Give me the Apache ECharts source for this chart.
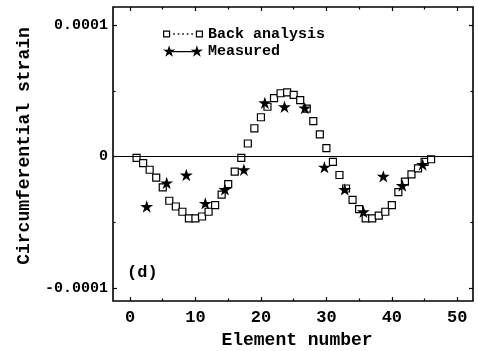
<!DOCTYPE html>
<html>
<head>
<meta charset="utf-8">
<script src="https://cdn.jsdelivr.net/npm/echarts@6/dist/echarts.min.js"></script>
<style>
  html, body { margin: 0; padding: 0; background: #fff; }
  #chart { width: 478px; height: 351px; }
</style>
</head>
<body>
<div id="chart"></div>
<script>
// back analysis, one value per element (strain x 1e-4)
const elements = [1, 2, 3, 4, 5, 6, 7, 8, 9, 10, 11, 12, 13, 14, 15, 16, 17, 18, 19, 20, 21, 22, 23,
  24, 25, 26, 27, 28, 29, 30, 31, 32, 33, 34, 35, 36, 37, 38, 39, 40, 41, 42, 43, 44, 45, 46];
const backAnalysis = [-0.01, -0.05, -0.10, -0.16, -0.235, -0.336, -0.38, -0.42, -0.47, -0.47, -0.456,
  -0.42, -0.37, -0.29, -0.21, -0.115, -0.01, 0.10, 0.216, 0.30, 0.38, 0.446, 0.483, 0.49, 0.47, 0.43,
  0.366, 0.27, 0.17, 0.065, -0.04, -0.14, -0.243, -0.33, -0.40, -0.47, -0.47, -0.45, -0.42, -0.37,
  -0.27, -0.19, -0.135, -0.09, -0.04, -0.02];

// measured points
const measuredX = [2.55, 5.6, 8.6, 11.5, 14.5, 17.4, 20.6, 23.6, 26.7, 29.7, 32.8, 35.65, 38.7, 41.6, 44.7];
const measured = [-0.38, -0.20, -0.14, -0.356, -0.25, -0.10, 0.41, 0.38, 0.37, -0.08, -0.25, -0.42,
  -0.15, -0.22, -0.06];

const scale = 1e-4;
const xTicks = [0, 10, 20, 30, 40, 50];
const xMinorTicks = [5, 15, 25, 35, 45];
const yTicks = [-0.0001, 0, 0.0001];
const yMinorTicks = [-0.00005, 0.00005];

const FONT = "Liberation Mono";

function starPath(cx, cy, r) {
  let d = "";
  for (let i = 0; i < 10; i++) {
    const a = (i * 36) * Math.PI / 180;
    const rr = i % 2 ? r * 0.38 : r;
    const x = cx + rr * Math.sin(a), y = cy - rr * Math.cos(a);
    d += (i ? "L" : "M") + x.toFixed(2) + "," + y.toFixed(2);
  }
  return d + "Z";
}
function ringPath(x, y, s, t) {
  return "M" + x + "," + y + "H" + (x + s) + "V" + (y + s) + "H" + x + "Z" +
    "M" + (x + t) + "," + (y + t) + "V" + (y + s - t) + "H" + (x + s - t) + "V" + (y + t) + "Z";
}
let dots = "";
for (let i = 0; i < 5; i++) {
  const x = 10.5 + i * 4.4;
  dots += "M" + x + ",3.3H" + (x + 1.5) + "V4.7H" + x + "Z";
}
const backIcon = "path://" + ringPath(0.5, 0.5, 7, 1.2) + ringPath(32.5, 0.5, 7, 1.2) + dots;
const measIcon = "path://" + starPath(6, 6.5, 6.5) + starPath(34, 6.5, 6.5) + "M6,5.9H34V7.1H6Z";
const starSymbol = "path://" + starPath(50, 50, 50);

const tickLine = { color: "#000", width: 1.2 };

function xAxisDef(pos, vals, len, labels) {
  return {
    type: "value", min: -2.6, max: 52.4, position: pos,
    axisLine: { show: false, onZero: false },
    axisTick: { show: true, inside: true, length: len, customValues: vals, lineStyle: tickLine },
    axisLabel: labels ? {
      show: true, customValues: vals, margin: 8, color: "#000",
      fontFamily: FONT, fontSize: 17, fontWeight: "bold"
    } : { show: false },
    splitLine: { show: false }
  };
}
function yAxisDef(pos, vals, len, labels) {
  return {
    type: "value", min: -1.1e-4, max: 1.14e-4, position: pos,
    axisLine: { show: false, onZero: false },
    axisTick: { show: true, inside: true, length: len, customValues: vals, lineStyle: tickLine },
    axisLabel: labels ? {
      show: true, customValues: vals, margin: 5, color: "#000",
      fontFamily: FONT, fontSize: 15, fontWeight: "bold",
      formatter: v => Math.abs(v) < 1e-12 ? "0" : v.toFixed(4)
    } : { show: false },
    splitLine: { show: false }
  };
}

const xAxes = [xAxisDef("bottom", xTicks, 4, true), xAxisDef("bottom", xMinorTicks, 2.5),
  xAxisDef("top", xTicks, 4), xAxisDef("top", xMinorTicks, 2.5)];
xAxes[0].name = "Element number";
xAxes[0].nameLocation = "middle";
xAxes[0].nameGap = 30;
xAxes[0].nameTextStyle = { fontFamily: FONT, fontSize: 18, fontWeight: "bold", color: "#000", padding: [0, 0, 0, 8] };

const yAxes = [yAxisDef("left", yTicks, 4, true), yAxisDef("left", yMinorTicks, 2.5),
  yAxisDef("right", yTicks, 4), yAxisDef("right", yMinorTicks, 2.5)];
yAxes[0].name = "Circumferential strain";
yAxes[0].nameLocation = "middle";
yAxes[0].nameGap = 80;
yAxes[0].nameTextStyle = { fontFamily: FONT, fontSize: 18, fontWeight: "bold", color: "#000", padding: [0, 0, 0, 16] };

const chart = echarts.init(document.getElementById("chart"), null, { renderer: "canvas" });
chart.setOption({
  animation: false,
  backgroundColor: "#fff",
  grid: {
    left: 113, right: 5, top: 7, bottom: 50, outerBoundsMode: "none",
    show: true, borderColor: "#000", borderWidth: 1.6, backgroundColor: "transparent"
  },
  xAxis: xAxes,
  yAxis: yAxes,
  legend: {
    orient: "vertical", left: 158, top: 21, itemWidth: 40, itemHeight: 12, itemGap: 1,
    textStyle: { fontFamily: FONT, fontSize: 15, fontWeight: "bold", color: "#000", lineHeight: 16 },
    data: [
      { name: "Back analysis", icon: backIcon, itemStyle: { color: "#000", borderWidth: 0 } },
      { name: "Measured", icon: measIcon, itemStyle: { color: "#000", borderWidth: 0 } }
    ]
  },
  graphic: [{
    type: "text", left: 127, top: 264,
    style: { text: "(d)", font: "bold 17px '" + FONT + "'", fill: "#000" }
  }],
  series: [
    {
      name: "Back analysis", type: "scatter",
      data: elements.map((e, i) => [e, backAnalysis[i] * scale]),
      symbol: "rect", symbolSize: 7,
      itemStyle: { color: "#fff", borderColor: "#000", borderWidth: 1.2, opacity: 1 },
      markLine: {
        silent: true, symbol: "none", label: { show: false },
        lineStyle: { color: "#000", width: 1.2, type: "solid" },
        data: [{ yAxis: 0 }]
      },
      z: 2
    },
    {
      name: "Measured", type: "scatter",
      data: measuredX.map((x, i) => [x, measured[i] * scale]),
      symbol: starSymbol, symbolSize: 13, symbolKeepAspect: true,
      itemStyle: { color: "#000", opacity: 1 },
      z: 3
    }
  ]
});
</script>
</body>
</html>
